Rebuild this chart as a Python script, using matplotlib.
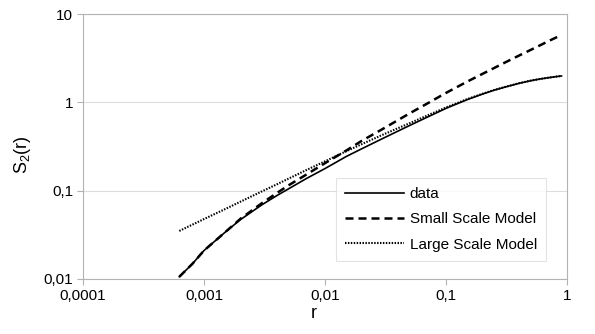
import matplotlib
matplotlib.use("Agg")
import matplotlib.pyplot as plt
import numpy as np

plt.rcParams['font.family'] = ['Liberation Sans', 'DejaVu Sans']
plt.rcParams['mathtext.fontset'] = 'custom'
plt.rcParams['mathtext.rm'] = 'Liberation Sans'

# values
r = [0.000625, 0.0008, 0.001, 0.0015, 0.002, 0.003, 0.004, 0.005, 0.007, 0.01,
     0.015, 0.02, 0.03, 0.05, 0.07, 0.1, 0.15, 0.2, 0.25, 0.3, 0.4, 0.5, 0.6,
     0.7, 0.8, 0.9]
s2_data = [0.0106, 0.0148, 0.021, 0.034, 0.047, 0.069, 0.088, 0.105, 0.137, 0.178,
           0.244, 0.297, 0.39, 0.547, 0.68, 0.855, 1.075, 1.24, 1.373, 1.475,
           1.64, 1.757, 1.84, 1.90, 1.95, 1.99]
s2_small = [0.0106, 0.0148, 0.021, 0.034, 0.048, 0.072, 0.094, 0.115, 0.152, 0.205,
            0.285, 0.365, 0.50, 0.75, 0.97, 1.28, 1.72, 2.10, 2.45, 2.78, 3.38,
            3.92, 4.43, 4.92, 5.37, 5.8]
s2_large = [0.035, 0.0412, 0.0477, 0.062, 0.075, 0.098, 0.118, 0.137, 0.171, 0.215,
            0.28, 0.335, 0.43, 0.58, 0.71, 0.875, 1.09, 1.25, 1.38, 1.48, 1.645,
            1.76, 1.84, 1.90, 1.95, 1.99]

xticks = [0.0001, 0.001, 0.01, 0.1, 1]
xticklabels = ['0,0001', '0,001', '0,01', '0,1', '1']
yticks = [0.01, 0.1, 1, 10]
yticklabels = ['0,01', '0,1', '1', '10']

fig = plt.figure(figsize=(5.95, 3.34), dpi=100)
ax = fig.add_axes([0.1395, 0.1647, 0.8135, 0.7933])

ax.plot(r, s2_data, color='black', lw=1.2, label='data')
ax.plot(r, s2_small, color='black', lw=1.8, ls=(0, (3.2, 2.0)), label='Small Scale Model')
ax.plot(r, s2_large, color='black', lw=1.5, ls=(0, (0.7, 0.7)), label='Large Scale Model')

ax.set_xscale('log')
ax.set_yscale('log')
ax.set_xlim(0.0001, 1)
ax.set_ylim(0.01, 10)
ax.set_xticks(xticks)
ax.set_xticklabels(xticklabels)
ax.set_yticks(yticks)
ax.set_yticklabels(yticklabels)
ax.minorticks_off()
ax.tick_params(axis='both', which='major', length=4, color='#b3b3b3',
               labelsize=11, pad=3, labelcolor='black')
ax.yaxis.grid(True, color='#dddddd', lw=0.8)
ax.set_axisbelow(True)
for sp in ax.spines.values():
    sp.set_color('#b3b3b3')
    sp.set_linewidth(0.8)

ax.set_xlabel('r', fontsize=13, va='center')
ax.xaxis.set_label_coords(0.476, -0.132)
ax.set_ylabel('S$_\\mathregular{2}$(r)', fontsize=13, va='center')
ax.yaxis.set_label_coords(-0.124, 0.47)

leg = ax.legend(loc='lower right', bbox_to_anchor=(0.957, 0.068), fontsize=11,
                frameon=True, fancybox=False, handlelength=3.9, handletextpad=0.35,
                borderpad=0.6, labelspacing=0.75, borderaxespad=0)
leg.get_frame().set_edgecolor('#dddddd')
leg.get_frame().set_linewidth(0.8)

fig.savefig('out.png', dpi=100)
